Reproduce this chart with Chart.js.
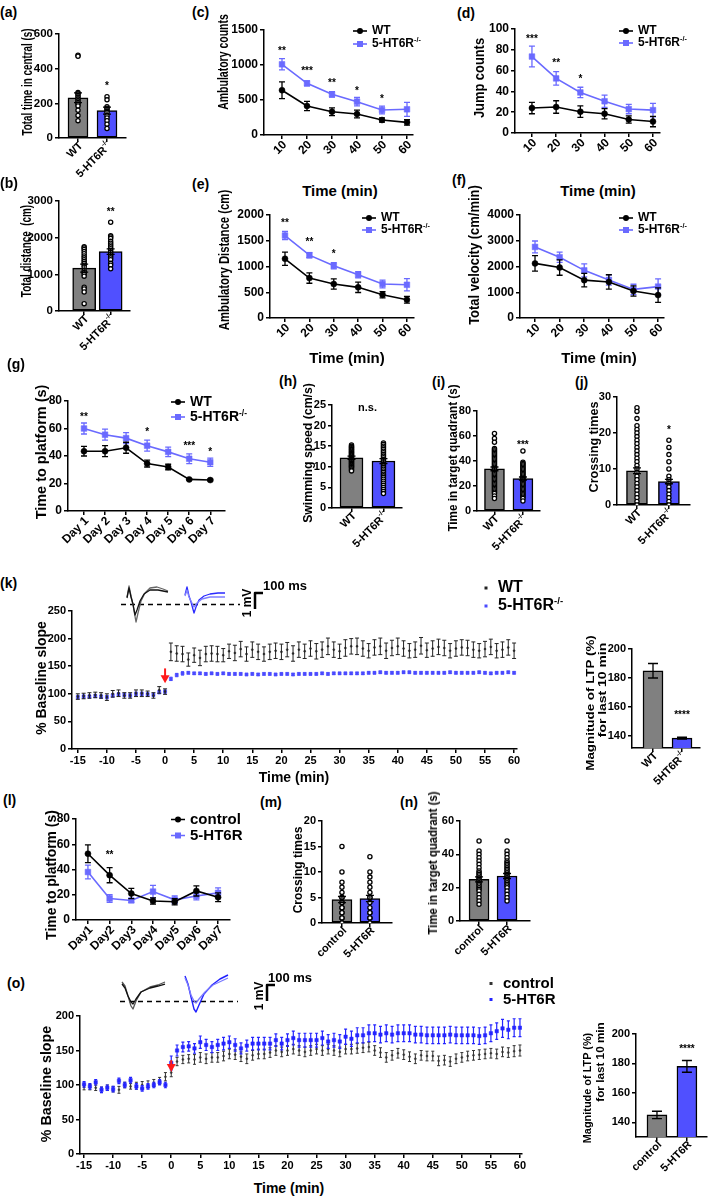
<!DOCTYPE html>
<html>
<head>
<meta charset="utf-8">
<script src="https://cdn.jsdelivr.net/npm/chart.js@4.4.1/dist/chart.umd.min.js"></script>
<style>
body { margin: 0; background: #fff; }
#fig { position: relative; width: 709px; height: 1198px; overflow: hidden; font-family: "Liberation Sans", Arial, sans-serif; font-weight: bold; color: #000; }
#fig canvas { position: absolute; }
.t { position: absolute; white-space: nowrap; line-height: 1; }
.sp { font-size: 0.6em; position: relative; top: -0.65em; }
</style>
</head>
<body>
<div id="fig"></div>
<script>
// ---------------- data ----------------
const times = [10, 20, 30, 40, 50, 60];
const days = [1, 2, 3, 4, 5, 6, 7];
const dayNamesG = ['Day 1', 'Day 2', 'Day 3', 'Day 4', 'Day 5', 'Day 6', 'Day 7'];
const dayNamesL = ['Day1', 'Day2', 'Day3', 'Day4', 'Day5', 'Day6', 'Day7'];

// (a) total time in central
const aMeans = [232, 158];
const aErrs = [28, 20];
const aPtsWT = [478, 472, 262, 255, 245, 235, 225, 215, 205, 195, 185, 160, 130, 100];
const aPtsKO = [238, 220, 180, 172, 165, 155, 148, 130, 115, 100, 80, 55];
const aTicks = [0, 200, 400, 600];
// (b) total distance
const bMeans = [1170, 1620];
const bErrs = [110, 75];
const bPtsWT = [1750, 1720, 1680, 1620, 1560, 1500, 1450, 1400, 1350, 1300, 1250, 1200, 1100, 1050, 1000, 950, 650, 600, 520, 200];
const bPtsKO = [2420, 2050, 2020, 1980, 1900, 1850, 1800, 1750, 1700, 1650, 1600, 1550, 1500, 1450, 1400, 1300, 1250, 1150];
const bTicks = [0, 1000, 2000, 3000];
// (c) ambulatory counts
const cWT = [640, 414, 333, 300, 214, 181];
const cWTe = [120, 65, 55, 55, 30, 40];
const cKO = [1010, 738, 581, 476, 357, 367];
const cKOe = [80, 35, 40, 60, 55, 100];
const cTicks = [0, 500, 1000, 1500];
// (d) jump counts
const dWT = [24, 25, 20.5, 18.5, 13, 11];
const dWTe = [5.5, 6, 5.5, 5, 3.5, 5];
const dKO = [73.5, 52.5, 39, 30.5, 23, 22];
const dKOe = [10, 6.5, 5, 6, 4.5, 6.5];
const dTicks = [0, 20, 40, 60, 80, 100];
// (e) ambulatory distance
const eWT = [1150, 775, 660, 595, 450, 355];
const eWTe = [130, 100, 100, 100, 60, 65];
const eKO = [1600, 1220, 1015, 840, 660, 645];
const eKOe = [80, 50, 60, 60, 75, 120];
const eTicks = [0, 500, 1000, 1500, 2000];
// (f) total velocity
const fWT = [2120, 1960, 1470, 1400, 1050, 890];
const fWTe = [300, 300, 260, 280, 200, 280];
const fKO = [2760, 2360, 1850, 1480, 1110, 1220];
const fKOe = [230, 200, 250, 200, 200, 300];
const fTicks = [0, 1000, 2000, 3000, 4000];
// (g) time to platform
const gWT = [43.5, 43.5, 46, 34.5, 32, 23, 22.5];
const gWTe = [3.5, 4, 4, 2.5, 2, 0.6, 0.6];
const gKO = [60, 55.5, 53, 47.5, 43, 38, 35.5];
const gKOe = [4, 4, 4, 4, 3.5, 3.5, 3];
const gTicks = [0, 20, 40, 60, 80];
// (h) swimming speed
const hMeans = [12.2, 11.4];
const hErrs = [0.4, 0.6];
const hPtsWT = [15.3, 15, 14.8, 14.6, 14.4, 14.2, 14, 13.8, 13.6, 13.4, 13.2, 13, 12.8, 12.6, 12.4, 12.2, 12, 11.8, 11.6, 11.4, 11.2, 11, 10.8, 10.6, 10.4, 10.2, 10, 9.8, 9.5, 9.2, 9];
const hPtsKO = [15.8, 15.4, 15, 14.6, 14.2, 13.8, 13.4, 13, 12.6, 12.2, 11.8, 11.4, 11, 10.6, 10.2, 9.8, 9.4, 9, 8.6, 8.2, 7.8, 7.4, 7, 6.5, 6, 5.5, 5, 4.5, 4, 3.5];
const hTicks = [0, 5, 10, 15, 20, 25];
// (i) time in target quadrant
const iMeans = [33.7, 26];
const iErrs = [1.5, 1.2];
const iPtsWT = [62, 58, 55, 50, 49, 48, 47, 46, 45, 44, 43, 42, 41, 40, 39, 38, 37, 36, 35, 34, 33, 32, 31, 30, 29, 28, 27, 26, 25, 24, 23, 22, 21, 20, 19, 18, 17, 16, 15, 14, 12, 10];
const iPtsKO = [48, 39, 38, 37, 36, 35, 34, 33, 32, 31, 30, 29, 28, 27, 26, 25, 24, 23, 22, 21, 20, 19, 18, 17, 16, 15, 14, 13, 12, 11, 10, 8];
const iTicks = [0, 20, 40, 60, 80];
// (j) crossing times
const jMeans = [9.5, 6.5];
const jErrs = [0.8, 0.6];
const jPtsWT = [27, 26, 24, 22, 21, 20, 19, 18, 17, 16, 15, 14, 13, 12, 11, 10, 9, 8, 7, 6, 5, 4, 3, 2, 1, 0];
const jPtsKO = [18, 16, 14, 12, 10, 8, 7, 6, 5, 4, 3, 2, 1, 0];
const jTicks = [0, 10, 20, 30];
// (k) LTP time course
const ltpTimes = [-15, -14, -13, -12, -11, -10, -9, -8, -7, -6, -5, -4, -3, -2, -1, 0,
  1, 2, 3, 4, 5, 6, 7, 8, 9, 10, 11, 12, 13, 14, 15, 16, 17, 18, 19, 20,
  21, 22, 23, 24, 25, 26, 27, 28, 29, 30, 31, 32, 33, 34, 35, 36, 37, 38, 39, 40,
  41, 42, 43, 44, 45, 46, 47, 48, 49, 50, 51, 52, 53, 54, 55, 56, 57, 58, 59, 60];
const ltpTicks = [-15, -10, -5, 0, 5, 10, 15, 20, 25, 30, 35, 40, 45, 50, 55, 60];
const kWT = [95, 96, 97, 98, 97, 94, 100, 101, 97, 97, 101, 101, 100, 97, 107, 104,
  176, 173, 172, 162, 170, 165, 172, 173, 172, 170,
  177, 174, 181, 172, 180, 176, 172, 176, 178, 176,
  180, 173, 180, 177, 182, 177, 180, 186, 180, 177,
  183, 186, 186, 182, 178, 184, 186, 178, 183, 186,
  182, 178, 180, 187, 179, 182, 185, 183, 178, 182,
  184, 183, 180, 178, 181, 185, 178, 180, 184, 178];
const kWTe = [5, 5, 5, 5, 5, 6, 6, 6, 5, 5, 6, 6, 5, 5, 6, 5,
  16, 14, 14, 12, 13, 14, 14, 14, 14, 12,
  13, 14, 14, 13, 14, 14, 13, 14, 14, 14,
  13, 14, 14, 13, 14, 14, 14, 15, 14, 13,
  15, 14, 15, 14, 13, 14, 15, 14, 14, 15,
  14, 13, 14, 15, 13, 14, 14, 14, 13, 14,
  14, 14, 14, 13, 14, 14, 13, 14, 14, 14];
const kKO = [94, 95, 95, 96, 95, 94, 97, 99, 98, 97, 100, 100, 99, 98, 103, 104,
  127, 134, 137, 138, 137, 137, 136, 137, 136, 137,
  136, 136, 136, 135, 136, 135, 136, 136, 135, 136,
  136, 135, 136, 136, 136, 136, 137, 136, 137, 137,
  137, 137, 137, 137, 138, 138, 139, 138, 138, 138,
  139, 139, 138, 138, 138, 138, 138, 138, 139, 138,
  138, 138, 138, 139, 138, 137, 138, 138, 139, 138];
const kKOe = [3, 3, 3, 3, 3, 3, 3, 3, 3, 3, 3, 3, 3, 3, 3, 3,
  3, 3, 3, 2, 2, 2, 2, 2, 2, 2,
  2, 2, 2, 2, 2, 2, 2, 2, 2, 2,
  2, 2, 2, 2, 2, 2, 2, 2, 2, 2,
  2, 2, 2, 2, 2, 2, 2, 2, 2, 2,
  2, 2, 2, 2, 2, 2, 2, 2, 2, 2,
  2, 2, 2, 2, 2, 2, 2, 2, 2, 2];
const kTicks = [0, 50, 100, 150, 200, 250];
const kBarMeans = [185, 138.5];
const kBarErrs = [5, 0.6];
const kBarTicks = [140, 160, 180, 200];
// (l) time to platform, overexpression
const lCtl = [52.5, 35.5, 21, 15, 14.5, 23, 18];
const lCtle = [7, 6, 4, 2.5, 2.5, 4, 3.5];
const lOE = [38, 17, 15.5, 22.5, 16, 19, 21.5];
const lOEe = [5.5, 3, 1.5, 5, 3, 3, 4];
const lTicks = [0, 20, 40, 60, 80];
// (m) crossing times
const mMeans = [4.6, 4.8];
const mErrs = [0.6, 0.6];
const mPtsCtl = [15, 10, 8, 7, 6, 5, 5, 4, 4, 3, 3, 2, 2, 1, 1, 0, 0];
const mPtsOE = [13, 10, 9, 8, 7, 6, 5, 5, 4, 3, 2, 2, 1, 1, 0];
const mTicks = [0, 5, 10, 15, 20];
// (n) time in target quadrant
const nMeans = [25, 27];
const nErrs = [1.5, 1.5];
const nPtsCtl = [48, 42, 40, 38, 36, 34, 32, 30, 29, 28, 27, 26, 25, 24, 23, 22, 21, 20, 19, 18, 16, 14, 12, 10];
const nPtsOE = [48, 42, 40, 38, 36, 35, 34, 33, 32, 31, 30, 29, 28, 27, 26, 25, 24, 23, 22, 21, 20, 18, 16, 14, 12];
const nTicks = [0, 20, 40, 60];
// (o) LTP time course, overexpression
const oCtl = [97, 97, 96, 93, 96, 94, 93, 100, 98, 99, 100, 101, 103, 106, 112, 118,
  134, 137, 138, 137, 140, 138, 140, 140, 142, 145,
  144, 141, 138, 143, 145, 145, 147, 150, 148, 150,
  152, 150, 148, 150, 152, 150, 152, 150, 148, 152,
  152, 153, 154, 155, 150, 147, 140, 143, 146, 144,
  141, 138, 143, 142, 142, 135, 136, 134, 138, 140,
  142, 143, 144, 145, 146, 145, 148, 147, 149, 150];
const oCtle = [4, 4, 4, 4, 4, 4, 5, 4, 4, 5, 5, 5, 5, 5, 6, 6,
  6, 6, 6, 7, 7, 7, 7, 7, 7, 7,
  7, 7, 7, 7, 7, 7, 7, 7, 7, 7,
  7, 7, 7, 7, 7, 7, 7, 7, 7, 7,
  7, 7, 7, 7, 7, 7, 7, 7, 7, 7,
  7, 7, 7, 7, 7, 7, 7, 7, 7, 7,
  7, 7, 7, 7, 7, 7, 7, 7, 8, 8];
const oOE = [101, 98, 104, 93, 96, 94, 106, 100, 107, 98, 95, 98, 100, 104, 100, 132,
  150, 155, 156, 153, 162, 158, 155, 158, 160, 162,
  158, 153, 157, 160, 160, 160, 160, 165, 160, 165,
  168, 165, 165, 165, 165, 168, 163, 165, 163, 170,
  167, 172, 172, 175, 175, 173, 175, 173, 175, 175,
  175, 173, 173, 172, 172, 172, 172, 173, 172, 172,
  172, 172, 171, 172, 175, 178, 182, 180, 183, 183];
const oOEe = [4, 4, 4, 4, 4, 4, 4, 4, 4, 4, 4, 4, 4, 4, 4, 10,
  8, 7, 7, 7, 9, 8, 8, 8, 9, 9,
  9, 8, 8, 9, 9, 9, 9, 9, 9, 9,
  10, 10, 10, 10, 10, 10, 10, 10, 10, 11,
  11, 11, 11, 12, 12, 12, 12, 12, 12, 12,
  12, 12, 12, 12, 12, 12, 12, 12, 12, 12,
  12, 12, 12, 12, 12, 12, 13, 13, 13, 13];
const oTicks = [0, 50, 100, 150, 200];
const oBarMeans = [145, 178];
const oBarErrs = [2.5, 4];
const oBarTicks = [140, 160, 180, 200];

// ---------------- style ----------------
const FONT = '"Liberation Sans", Arial, sans-serif';
const BLACK = '#000000';
const LBLUE = '#6a6aff';
const GRAY = '#808080';
const BBLUE = '#5050ff';
const fig = document.getElementById('fig');

Chart.defaults.font.family = FONT;
Chart.defaults.font.weight = 'bold';
Chart.defaults.color = '#000';
Chart.defaults.animation = false;
Chart.defaults.plugins.legend.display = false;
Chart.defaults.plugins.tooltip.enabled = false;

// raw options of our own plugins
const raw = (chart, id) => (chart.config.options.plugins || {})[id];

// error bars read from dataset.errs
function drawErr(chart, i) {
    const ds = chart.data.datasets[i];
    const meta = chart.getDatasetMeta(i);
    const ys = chart.scales[meta.yAxisID];
    const ctx = chart.ctx;
    const c = ds.cap ?? 3;
    ctx.save();
    ctx.strokeStyle = ds.errColor || ds.borderColor;
    ctx.lineWidth = ds.errWidth || 1.2;
    meta.data.forEach((el, j) => {
        const e = ds.errs[j];
        if (!e) return;
        const d = ds.data[j];
        const v = typeof d === 'object' ? d.y : d;
        const y1 = ys.getPixelForValue(v + e), y2 = ys.getPixelForValue(v - e);
        ctx.beginPath();
        ctx.moveTo(el.x, y1); ctx.lineTo(el.x, y2);
        ctx.moveTo(el.x - c, y1); ctx.lineTo(el.x + c, y1);
        ctx.moveTo(el.x - c, y2); ctx.lineTo(el.x + c, y2);
        ctx.stroke();
    });
    ctx.restore();
}
const errorBars = {
    id: 'errorBars',
    beforeDatasetDraw(chart, args) {
        const ds = chart.data.datasets[args.index];
        if (ds.errs && !ds.errTop) drawErr(chart, args.index);
    },
    afterDatasetsDraw(chart) {
        chart.data.datasets.forEach((ds, i) => { if (ds.errs && ds.errTop) drawErr(chart, i); });
    }
};

// significance marks placed in data units
const notes = {
    id: 'notes',
    afterDatasetsDraw(chart) {
        const o = raw(chart, 'notes');
        if (!o) return;
        const ctx = chart.ctx;
        ctx.save();
        ctx.fillStyle = '#000';
        ctx.textAlign = 'center';
        ctx.textBaseline = 'middle';
        o.items.forEach(([x, y, t]) => {
            ctx.font = `bold ${o.size || 10}px ${FONT}`;
            ctx.fillText(t, chart.scales.x.getPixelForValue(x), chart.scales.y.getPixelForValue(y));
        });
        ctx.restore();
    }
};

// x tick labels (rotated, with superscripts)
const xLabels = {
    id: 'xLabels',
    afterDraw(chart) {
        const o = raw(chart, 'xLabels');
        if (!o) return;
        const xs = chart.scales.x, ctx = chart.ctx, size = o.size || 12;
        const big = `bold ${size}px ${FONT}`, small = `bold ${Math.round(size * 0.6)}px ${FONT}`;
        ctx.save();
        ctx.fillStyle = '#000';
        o.items.forEach(it => {
            const x = xs.getPixelForValue(it.v);
            ctx.save();
            if (o.rot === 0) {
                ctx.font = big;
                ctx.textAlign = 'center';
                ctx.textBaseline = 'top';
                ctx.fillText(it.t, x, xs.top + (o.dy ?? 5));
            } else {
                ctx.translate(x + (o.dx ?? 3), xs.top + (o.dy ?? 8));
                ctx.rotate(-Math.PI / 4);
                ctx.font = big;
                const mw = ctx.measureText(it.t).width;
                ctx.font = small;
                const sw = it.s ? ctx.measureText(it.s).width : 0;
                ctx.textAlign = 'left';
                ctx.textBaseline = 'middle';
                ctx.font = big;
                ctx.fillText(it.t, -mw - sw, 0);
                if (it.s) { ctx.font = small; ctx.fillText(it.s, -sw, -size * 0.4); }
            }
            ctx.restore();
        });
        ctx.restore();
    }
};

// red stimulation arrow
const arrow = {
    id: 'arrow',
    afterDatasetsDraw(chart) {
        const o = raw(chart, 'arrow');
        if (!o) return;
        const ctx = chart.ctx;
        const x = chart.scales.x.getPixelForValue(o.x);
        const y1 = chart.scales.y.getPixelForValue(o.from), y2 = chart.scales.y.getPixelForValue(o.to);
        ctx.save();
        ctx.strokeStyle = ctx.fillStyle = '#ff1a1a';
        ctx.lineWidth = 2;
        ctx.beginPath(); ctx.moveTo(x, y1); ctx.lineTo(x, y2 - 6); ctx.stroke();
        ctx.beginPath(); ctx.moveTo(x - 4.5, y2 - 8); ctx.lineTo(x + 4.5, y2 - 8); ctx.lineTo(x, y2); ctx.closePath(); ctx.fill();
        ctx.restore();
    }
};
Chart.register(errorBars, notes, xLabels, arrow);

// ---------------- helpers ----------------
function axisY(min, max, ticks, size) {
    return {
        type: 'linear', min, max,
        afterBuildTicks: s => { s.ticks = ticks.map(v => ({ value: v })); },
        grid: { drawOnChartArea: false, drawTicks: true, tickLength: 4, color: '#000', lineWidth: 1.5 },
        border: { color: '#000', width: 1.5 },
        ticks: { color: '#000', font: { family: FONT, weight: 'bold', size: size || 12 }, padding: 2, callback: v => String(v) }
    };
}
function axisX(min, max, ticks) {
    return {
        type: 'linear', min, max, offset: false,
        afterBuildTicks: s => { s.ticks = ticks.map(v => ({ value: v })); },
        grid: { drawOnChartArea: false, drawTicks: true, tickLength: 4, color: '#000', lineWidth: 1.5, offset: false },
        border: { color: '#000', width: 1.5 },
        ticks: { display: false }
    };
}
function place(box, config) {
    const pt = box.pt ?? 10, pr = box.pr ?? 12;
    const cv = document.createElement('canvas');
    cv.width = box.r - box.l + box.yw + pr;
    cv.height = box.b - box.t + pt + box.xh;
    cv.style.left = (box.l - box.yw) + 'px';
    cv.style.top = (box.t - pt) + 'px';
    fig.appendChild(cv);
    config.options.responsive = false;
    config.options.layout = { padding: { left: 0, top: pt, right: pr, bottom: 0 } };
    config.options.scales.x.afterFit = s => { s.height = box.xh; };
    config.options.scales.y.afterFit = s => { s.width = box.yw; };
    return new Chart(cv, config);
}
function linePanel(box, o) {
    const datasets = o.series.map(s => ({
        type: 'line',
        data: o.x.map((x, i) => ({ x, y: s.y[i] })),
        errs: s.e, cap: s.cap ?? 3, errWidth: s.ew ?? 1.3,
        borderColor: s.color, backgroundColor: s.color,
        borderWidth: s.lw ?? 1.6, showLine: s.line !== false, tension: 0,
        pointStyle: s.shape, pointRadius: s.r ?? 3, pointBorderWidth: 0.5,
        order: s.order ?? 0
    }));
    return place(box, {
        type: 'line',
        data: { datasets },
        options: {
            scales: { x: axisX(o.xMin, o.xMax, o.xTicks || o.x), y: axisY(o.yMin ?? 0, o.yMax, o.yTicks, o.tickSize) },
            plugins: {
                notes: o.notes ? { items: o.notes, size: o.noteSize } : undefined,
                xLabels: { items: o.labels, size: o.labelSize, rot: o.rot, dy: o.dy, dx: o.dx },
                arrow: o.arrow
            }
        }
    });
}
function barPanel(box, o) {
    const idx = o.means.map((m, i) => i + 1);
    const datasets = [{
        type: 'bar',
        data: idx.map((x, i) => ({ x, y: o.means[i] })),
        errs: o.errs, errTop: true, errColor: '#000', cap: o.cap ?? 4, errWidth: 1.3,
        backgroundColor: o.colors || [GRAY, BBLUE], borderColor: '#000', borderWidth: 1.5,
        borderSkipped: false, barThickness: o.barW, grouped: false, order: 2
    }];
    (o.pts || []).forEach((list, i) => {
        datasets.push({
            type: 'line', showLine: false,
            data: list.map(v => ({ x: idx[i], y: v })),
            pointStyle: 'circle', pointRadius: o.ptR ?? 2.1, pointBorderWidth: 1.3,
            pointBackgroundColor: '#fff', pointBorderColor: '#000', order: 1
        });
    });
    return place(box, {
        type: 'bar',
        data: { datasets },
        options: {
            scales: { x: axisX(o.xMin, o.xMax, idx), y: axisY(o.yMin ?? 0, o.yMax, o.yTicks, o.tickSize) },
            plugins: {
                notes: o.notes ? { items: o.notes, size: o.noteSize } : undefined,
                xLabels: { items: o.cats.map((c, i) => ({ v: idx[i], t: c, s: (o.sups || [])[i] })), size: o.labelSize || 11, dy: o.dy ?? 6, dx: 3 }
            }
        }
    });
}
function txt(html, x, y, size, center) {
    const el = document.createElement('div');
    el.className = 't';
    el.innerHTML = html;
    el.style.left = x + 'px';
    el.style.top = y + 'px';
    el.style.fontSize = size + 'px';
    el.style.transform = center ? 'translate(-50%,-50%)' : 'translate(0,-50%)';
    fig.appendChild(el);
    return el;
}
function vtxt(html, cx, cy, size, len) {
    const el = txt(html, cx, cy, size, true);
    const k = len ? len / el.offsetWidth : 1;
    el.style.transform = `translate(-50%,-50%) rotate(-90deg) scaleX(${k})`;
    return el;
}
function legend(x, y, html, color, shape, size, w) {
    const lw = w ?? 14;
    let mark = shape === 'rect'
        ? `<rect x="${lw / 2 - 3}" y="2" width="6" height="6" fill="${color}"/>`
        : `<circle cx="${lw / 2}" cy="5" r="3" fill="${color}"/>`;
    if (shape === 'dot') mark = `<rect x="${lw / 2 - 1.5}" y="3.5" width="3" height="3" fill="${color}"/>`;
    const line = shape === 'dot' ? '' : `<line x1="0" y1="5" x2="${lw}" y2="5" stroke="${color}" stroke-width="1.6"/>`;
    return txt(`<svg width="${lw}" height="10" style="vertical-align:middle;margin-right:5px">${line}${mark}</svg>${html}`, x, y, size);
}
const KO = '5-HT6R<span class="sp">-/-</span>';

// ---------------- panels ----------------
// (a)
barPanel({ l: 59, r: 126, t: 34, b: 138, yw: 30, xh: 60 }, {
    means: aMeans, errs: aErrs, pts: [aPtsWT, aPtsKO], yMax: 600, yTicks: aTicks,
    xMin: 0.345, xMax: 2.655, barW: 20, cats: ['WT', '5-HT6R'], sups: ['', '-/-'],
    notes: [[2, 300, '*']], tickSize: 11.5
});
// (b)
barPanel({ l: 59, r: 130, t: 201, b: 311, yw: 34, xh: 60 }, {
    means: bMeans, errs: bErrs, pts: [bPtsWT, bPtsKO], yMax: 3000, yTicks: bTicks,
    xMin: 0.05, xMax: 2.73, barW: 23, cats: ['WT', '5-HT6R'], sups: ['', '-/-'],
    notes: [[2, 2680, '**']], tickSize: 11.5
});
// (c)
linePanel({ l: 264, r: 413, t: 30, b: 135, yw: 36, xh: 40 }, {
    x: times, xMin: 2.8, xMax: 62.4, yMax: 1500, yTicks: cTicks,
    series: [{ y: cWT, e: cWTe, color: BLACK, shape: 'circle' }, { y: cKO, e: cKOe, color: LBLUE, shape: 'rect', r: 4 }],
    labels: times.map(v => ({ v, t: String(v) })),
    notes: [[10, 1190, '**'], [20, 905, '***'], [30, 738, '**'], [40, 630, '*'], [50, 505, '*']]
});
// (d)
linePanel({ l: 515, r: 660, t: 29, b: 133, yw: 30, xh: 40 }, {
    x: times, xMin: 3, xMax: 62.9, yMax: 100, yTicks: dTicks,
    series: [{ y: dWT, e: dWTe, color: BLACK, shape: 'circle' }, { y: dKO, e: dKOe, color: LBLUE, shape: 'rect', r: 4 }],
    labels: times.map(v => ({ v, t: String(v) })),
    notes: [[10, 90, '***'], [20, 67, '**'], [30, 52, '*']]
});
// (e)
linePanel({ l: 270, r: 414, t: 215, b: 318, yw: 36, xh: 40 }, {
    x: times, xMin: 3.85, xMax: 62.9, yMax: 2000, yTicks: eTicks,
    series: [{ y: eWT, e: eWTe, color: BLACK, shape: 'circle' }, { y: eKO, e: eKOe, color: LBLUE, shape: 'rect', r: 4 }],
    labels: times.map(v => ({ v, t: String(v) })),
    notes: [[10, 1840, '**'], [20, 1465, '**'], [30, 1240, '*']]
});
// (f)
linePanel({ l: 520, r: 664, t: 215, b: 318, yw: 36, xh: 40 }, {
    x: times, xMin: 3.9, xMax: 62.4, yMax: 4000, yTicks: fTicks,
    series: [{ y: fWT, e: fWTe, color: BLACK, shape: 'circle' }, { y: fKO, e: fKOe, color: LBLUE, shape: 'rect', r: 4 }],
    labels: times.map(v => ({ v, t: String(v) }))
});
// (g)
linePanel({ l: 68, r: 225, t: 401, b: 511, yw: 26, xh: 50 }, {
    x: days, xMin: 0.24, xMax: 7.7, yMax: 80, yTicks: gTicks,
    series: [{ y: gWT, e: gWTe, color: BLACK, shape: 'circle' }, { y: gKO, e: gKOe, color: LBLUE, shape: 'rect', r: 4 }],
    labels: days.map((v, i) => ({ v, t: dayNamesG[i] })),
    notes: [[1, 68.5, '**'], [4, 57, '*'], [6, 47, '***'], [7, 43, '*']]
});
// (h)
barPanel({ l: 332, r: 402, t: 405, b: 508, yw: 24, xh: 60 }, {
    means: hMeans, errs: hErrs, pts: [hPtsWT, hPtsKO], yMax: 25, yTicks: hTicks,
    xMin: 0.39, xMax: 2.58, barW: 23, cats: ['WT', '5-HT6R'], sups: ['', '-/-'],
    notes: [[1.5, 24.2, 'n.s.']], noteSize: 11, tickSize: 11
});
// (i)
barPanel({ l: 477, r: 540, t: 411, b: 511, yw: 24, xh: 60 }, {
    means: iMeans, errs: iErrs, pts: [iPtsWT, iPtsKO], yMax: 80, yTicks: iTicks,
    xMin: 0.386, xMax: 2.6, barW: 20, cats: ['WT', '5-HT6R'], sups: ['', '-/-'],
    notes: [[2, 52.5, '***']], tickSize: 11
});
// (j)
barPanel({ l: 617, r: 690, t: 397, b: 505, yw: 24, xh: 60 }, {
    means: jMeans, errs: jErrs, pts: [jPtsWT, jPtsKO], yMax: 30, yTicks: jTicks,
    xMin: 0.375, xMax: 2.66, barW: 21, cats: ['WT', '5-HT6R'], sups: ['', '-/-'],
    notes: [[2, 20.8, '*']], tickSize: 11
});
// (k)
linePanel({ l: 72, r: 517, t: 611, b: 749, yw: 30, xh: 22 }, {
    x: ltpTimes, xTicks: ltpTicks, xMin: -16, xMax: 60.5, yMax: 250, yTicks: kTicks, tickSize: 11,
    series: [
        { y: kKO, e: kKOe, color: '#4a4aff', shape: 'rect', r: 2.2, line: false, cap: 1.5, ew: 1, order: 1 },
        { y: kWT, e: kWTe, color: '#222', shape: 'circle', r: 1, line: false, cap: 2, ew: 1, order: 0 }
    ],
    labels: ltpTicks.map(v => ({ v, t: String(v) })), rot: 0, labelSize: 11, dy: 6,
    arrow: { x: 0, from: 146, to: 119 }
});
barPanel({ l: 632, r: 700, t: 649, b: 748, yw: 30, xh: 60 }, {
    means: kBarMeans, errs: kBarErrs, yMin: 131.7, yMax: 200, yTicks: kBarTicks,
    xMin: 0.276, xMax: 2.62, barW: 20, cap: 5, cats: ['WT', '5HT6R'], sups: ['', '-/-'],
    notes: [[2, 154, '****']], tickSize: 11
});
// (l)
linePanel({ l: 76, r: 230, t: 819, b: 920, yw: 26, xh: 50 }, {
    x: days, xMin: 0.45, xMax: 7.55, yMax: 80, yTicks: lTicks,
    series: [{ y: lCtl, e: lCtle, color: BLACK, shape: 'circle' }, { y: lOE, e: lOEe, color: LBLUE, shape: 'rect', r: 4 }],
    labels: days.map((v, i) => ({ v, t: dayNamesL[i] })),
    notes: [[2, 51, '**']]
});
// (m)
barPanel({ l: 322, r: 392, t: 821, b: 923, yw: 24, xh: 60 }, {
    means: mMeans, errs: mErrs, pts: [mPtsCtl, mPtsOE], yMax: 20, yTicks: mTicks,
    xMin: 0.286, xMax: 2.79, barW: 20, cats: ['control', '5-HT6R'], tickSize: 11
});
// (n)
barPanel({ l: 460, r: 530, t: 821, b: 921, yw: 24, xh: 60 }, {
    means: nMeans, errs: nErrs, pts: [nPtsCtl, nPtsOE], yMax: 60, yTicks: nTicks,
    xMin: 0.32, xMax: 2.82, barW: 20, cats: ['control', '5-HT6R'], tickSize: 11
});
// (o)
linePanel({ l: 80, r: 522, t: 1016, b: 1154, yw: 30, xh: 22 }, {
    x: ltpTimes, xTicks: ltpTicks, xMin: -15.7, xMax: 60.35, yMax: 200, yTicks: oTicks, tickSize: 11,
    series: [
        { y: oOE, e: oOEe, color: '#2424ff', shape: 'rect', r: 2.4, line: false, cap: 1.5, ew: 1.2, order: 0 },
        { y: oCtl, e: oCtle, color: '#333', shape: 'circle', r: 1, line: false, cap: 1.5, ew: 1, order: 1 }
    ],
    labels: ltpTicks.map(v => ({ v, t: String(v) })), rot: 0, labelSize: 11, dy: 6,
    arrow: { x: 0, from: 136, to: 119 }
});
barPanel({ l: 636, r: 707, t: 1034, b: 1137, yw: 30, xh: 60 }, {
    means: oBarMeans, errs: oBarErrs, yMin: 130, yMax: 200, yTicks: oBarTicks,
    xMin: 0.3, xMax: 2.67, barW: 20, cap: 5, cats: ['control', '5-HT6R'],
    notes: [[2, 189.6, '****']], tickSize: 11
});

// ---------------- texts ----------------
const letters = [['(a)', 0, 12], ['(b)', 0, 183], ['(c)', 192, 12], ['(d)', 457, 13], ['(e)', 192, 184], ['(f)', 452, 180],
    ['(g)', 7, 364], ['(h)', 279, 381], ['(i)', 432, 382], ['(j)', 575, 382], ['(k)', 0, 583], ['(l)', 3, 800],
    ['(m)', 260, 802], ['(n)', 400, 802], ['(o)', 7, 983]];
letters.forEach(([s, x, y]) => txt(s, x, y, 14));

vtxt('Total time in central (s)', 27, 82, 14, 107);
vtxt('Total distance&nbsp; (cm)', 26, 251, 14, 92);
vtxt('Ambulatory counts', 223, 62, 14, 96);
vtxt('Jump counts', 479, 78, 14, 80);
vtxt('Ambulatory Distance (cm)', 224, 260, 14, 140);
vtxt('Total velocity (cm/min)', 474, 255, 14, 140);
vtxt('Time to platform (s)', 40, 452, 15, 135);
vtxt('Swimming speed (cm/s)', 308, 453, 12, 140);
vtxt('Time in target quadrant (s)', 453, 458, 12, 147);
vtxt('Crossing times', 593, 447, 13, 91);
vtxt('% Baseline slope', 41, 678, 14, 113);
vtxt('Magnitude of LTP (%)', 590, 703, 11, 135);
vtxt('for last 10 min', 602, 690, 11, 95);
vtxt('Time to platform (s)', 50, 875, 15, 130);
vtxt('Crossing times', 298, 870, 12, 87);
vtxt('Time in target quadrant (s)', 433, 863, 12, 143);
vtxt('% Baseline slope', 46, 1084, 14, 116);
vtxt('Magnitude of LTP (%)', 587, 1088, 11, 110);
vtxt('for last 10 min', 600, 1062, 11, 80);

txt('Time (min)', 340, 190, 15, true);
txt('Time (min)', 598, 190, 15, true);
txt('Time (min)', 347, 357, 15, true);
txt('Time (min)', 599, 357, 15, true);
txt('Time (min)', 294, 777, 14, true);
txt('Time (min)', 289, 1188, 14, true);

legend(353, 30, 'WT', BLACK, 'circle', 12);
legend(353, 43, KO, LBLUE, 'rect', 12);
legend(619, 30, 'WT', BLACK, 'circle', 12);
legend(619, 42, KO, LBLUE, 'rect', 12);
legend(362, 217, 'WT', BLACK, 'circle', 12);
legend(362, 229, KO, LBLUE, 'rect', 12);
legend(619, 217, 'WT', BLACK, 'circle', 12);
legend(619, 229, KO, LBLUE, 'rect', 12);
legend(171, 401, 'WT', BLACK, 'circle', 14);
legend(171, 416, KO, LBLUE, 'rect', 14);
legend(479, 587, 'WT', '#222', 'dot', 16);
legend(479, 605, KO, '#4a4aff', 'dot', 16);
legend(171, 818, 'control', BLACK, 'circle', 15);
legend(171, 834, '5-HT6R', LBLUE, 'rect', 15);
legend(484, 982, 'control', '#333', 'dot', 15);
legend(484, 998, '5-HT6R', '#2424ff', 'dot', 15);

// example traces and scale bars
const svgNS = 'http://www.w3.org/2000/svg';
const svg = document.createElementNS(svgNS, 'svg');
svg.setAttribute('width', 709);
svg.setAttribute('height', 1198);
svg.style.position = 'absolute';
svg.style.left = '0';
svg.style.top = '0';
svg.innerHTML = `
<g fill="none" stroke-linejoin="round">
<path d="M121,604.5 L240,604.5" stroke="#000" stroke-width="1.6" stroke-dasharray="5,4"/>
<path d="M127,597 L129,586 L131,596 L133,605 L136,622 L138,613 L141,601 L145,593 L150,588 L157,587 L163,589 L168,591" stroke="#666" stroke-width="1.3"/>
<path d="M127,598 L129,588 L131,597 L133,604 L135,615 L137,610 L140,601 L144,594 L150,590 L158,590 L168,592" stroke="#111" stroke-width="1.3"/>
<path d="M185,595 L187,587 L189,596 L191,602 L194,613 L196,607 L199,600 L204,596 L210,594 L218,593 L225,593" stroke="#2a2aff" stroke-width="1.3"/>
<path d="M185,596 L187,590 L189,597 L191,601 L194,607 L197,603 L202,599 L210,597 L225,597" stroke="#8080ff" stroke-width="1.3"/>
<path d="M263,593 L255,593 L255,609" stroke="#000" stroke-width="2.5"/>
<path d="M120,1001.5 L238,1001.5" stroke="#000" stroke-width="1.6" stroke-dasharray="5,4"/>
<path d="M122,982 L125,986 L128,996 L131,1006 L133,1009 L136,1001 L141,992 L150,987 L158,985 L165,982" stroke="#555" stroke-width="1.3"/>
<path d="M122,984 L125,988 L128,996 L131,1002 L133,1004 L136,999 L141,992 L150,988 L158,986 L165,984" stroke="#111" stroke-width="1.3"/>
<path d="M185,976 L188,984 L191,997 L194,1009 L196,1012 L199,1005 L204,994 L212,985 L220,979 L228,975" stroke="#2020ff" stroke-width="1.4"/>
<path d="M185,978 L188,985 L191,995 L194,1001 L196,1003 L199,999 L205,992 L213,985 L228,978" stroke="#7a7aff" stroke-width="1.3"/>
<path d="M275,985 L267,985 L267,1001" stroke="#000" stroke-width="2.5"/>
</g>`;
fig.appendChild(svg);
txt('100 ms', 263, 585, 13);
vtxt('1 mV', 247, 603, 12);
txt('100 ms', 268, 977, 13);
vtxt('1 mV', 259, 996, 12);
</script>
</body>
</html>
